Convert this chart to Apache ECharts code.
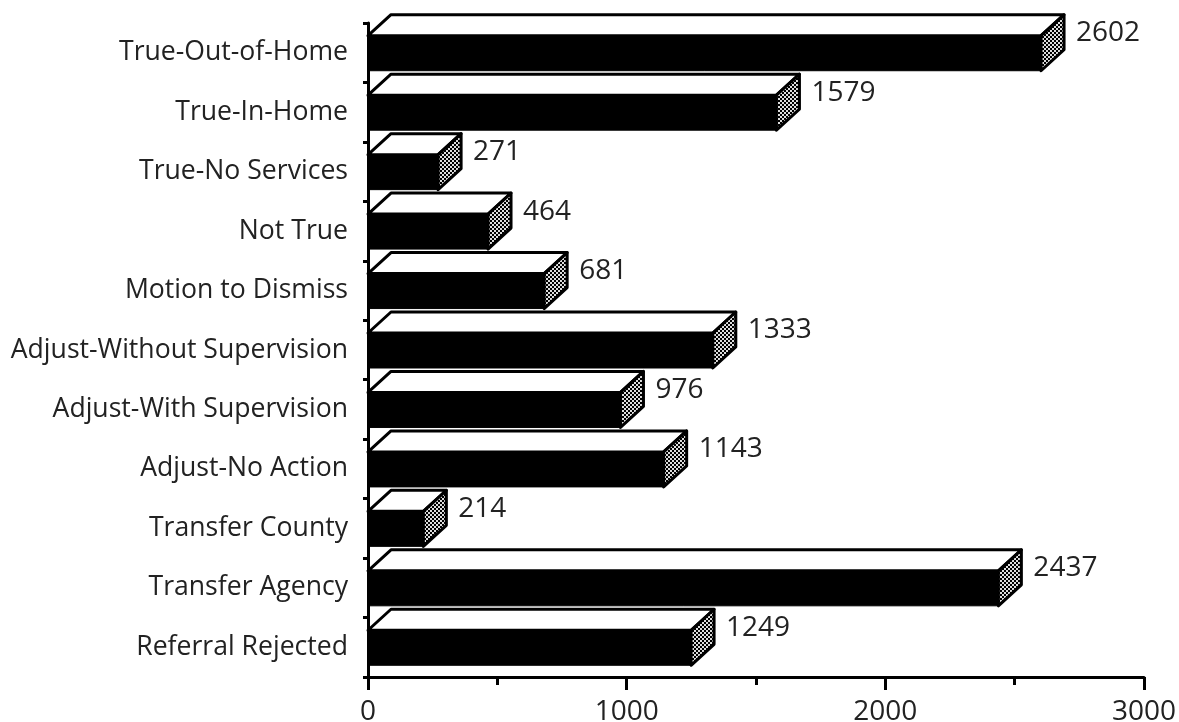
<!DOCTYPE html>
<html><head><meta charset="utf-8">
<style>html,body{margin:0;padding:0;background:#fff}#c{width:1179px;height:722px}</style>
<script src="https://cdn.jsdelivr.net/npm/echarts@6/dist/echarts.min.js"></script>
</head><body><div id="c"></div>
<script>
const categories = ["True-Out-of-Home","True-In-Home","True-No Services","Not True","Motion to Dismiss","Adjust-Without Supervision","Adjust-With Supervision","Adjust-No Action","Transfer County","Transfer Agency","Referral Rejected"];
const values = [2602,1579,271,464,681,1333,976,1143,214,2437,1249];
const FONT = "'Open Sans'";

const pat = document.createElement('canvas');
pat.width = 4; pat.height = 4;
const g = pat.getContext('2d');
g.fillStyle = '#000'; g.fillRect(0,0,4,4);
g.fillStyle = '#ddd'; g.fillRect(0,0,2,2); g.fillRect(2,2,2,2);

const chart = echarts.init(document.getElementById('c'), null, {renderer:'canvas'});
const DX = 23, DY = 21;
chart.setOption({
  animation:false,
  backgroundColor:'#fff',
  grid:{left:368,right:35,top:23,height:654,containLabel:false,outerBoundsMode:'none'},
  xAxis:{type:'value',min:0,max:3000,interval:1000,
    splitLine:{show:false},
    axisLine:{show:true,onZero:false,lineStyle:{color:'#000',width:3}},
    axisTick:{show:true,length:13,lineStyle:{color:'#000',width:3}},
    minorTick:{show:true,splitNumber:2,length:8,lineStyle:{color:'#000',width:3}},
    axisLabel:{color:'#222',fontFamily:FONT,fontSize:28,margin:21,showMinLabel:true,showMaxLabel:true,
      formatter:v=>String(v),hideOverlap:false}
  },
  yAxis:{type:'category',inverse:true,data:categories,
    axisLine:{show:true,lineStyle:{color:'#000',width:3}},
    axisTick:{show:true,length:5,lineStyle:{color:'#000',width:3}},
    axisLabel:{color:'#222',fontFamily:FONT,fontSize:26.6,margin:20,interval:0,padding:[4,0,0,0]}
  },
  series:[{type:'custom',
    data:values.map((v,i)=>[v,i]),
    encode:{x:0,y:1},
    clip:false,
    renderItem(params,api){
      const v=api.value(0), i=api.value(1);
      const end=api.coord([v,i]), start=api.coord([0,i]);
      const h=api.size([0,1])[1]*0.589;
      const x0=start[0], x1=end[0], cy=end[1]+0.5;
      const t=cy-h/2, b=cy+h/2;
      const line={stroke:'#000',lineWidth:3,lineJoin:'round'};
      return {type:'group',children:[
        {type:'polygon',shape:{points:[[x0,t],[x0+DX,t-DY],[x1+DX,t-DY],[x1,t]]},style:{fill:'#fff',...line}},
        {type:'polygon',shape:{points:[[x1,t],[x1+DX,t-DY],[x1+DX,b-DY],[x1,b]]},style:{fill:{image:pat,repeat:'repeat'},...line}},
        {type:'rect',shape:{x:x0,y:t,width:x1-x0,height:b-t},style:{fill:'#000',stroke:'#000',lineWidth:1}},
        {type:'text',style:{text:String(v),x:x1+35,y:cy-20,fill:'#222',fontFamily:FONT,fontSize:28,align:'left',verticalAlign:'middle'}}
      ]};
    }
  }]
});
</script></body></html>
